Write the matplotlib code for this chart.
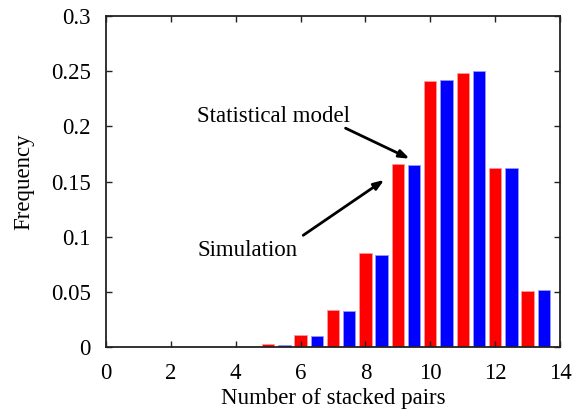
import matplotlib
matplotlib.use("Agg")
import matplotlib.pyplot as plt
import numpy as np

pairs = [5, 6, 7, 8, 9, 10, 11, 12, 13]
simulation = [0.0027, 0.0108, 0.034, 0.0855, 0.166, 0.2413, 0.248, 0.162, 0.0509]
statistical_model = [0.0024, 0.0102, 0.033, 0.0837, 0.165, 0.2422, 0.2503, 0.1624, 0.052]
xticks = [0, 2, 4, 6, 8, 10, 12, 14]
yticks = [0, 0.05, 0.1, 0.15, 0.2, 0.25, 0.3]
ytick_labels = ["0", "0.05", "0.1", "0.15", "0.2", "0.25", "0.3"]

plt.rcParams['font.family'] = ['Liberation Serif', 'DejaVu Serif']
FS = 16.5

fig = plt.figure(figsize=(5.74, 4.11), dpi=100)
ax = fig.add_axes([106/574, 1-347.3/411, (560-106)/574, (347.3-16)/411])

x = np.array(pairs, dtype=float)
w = 0.38
ax.bar(x, simulation, width=w, color='#ff0000', edgecolor='#ff9999', linewidth=0.6)
ax.bar(x + 0.5, statistical_model, width=w, color='#0000ff', edgecolor='#9999ff', linewidth=0.6)

ax.set_xlim(0, 14)
ax.set_ylim(0, 0.3)
ax.set_xticks(xticks)
ax.set_yticks(yticks)
ax.set_yticklabels(ytick_labels)
ax.tick_params(direction='in', top=True, right=True, length=4, width=1,
               labelsize=FS, colors='#222222', labelcolor='black')
ax.tick_params(axis='y', pad=11)
ax.tick_params(axis='x', pad=11)
for s in ax.spines.values():
    s.set_linewidth(1.3)
    s.set_color('#222222')

ax.set_xlabel("Number of stacked pairs", fontsize=FS, labelpad=3)
ax.set_ylabel("Frequency", fontsize=FS, labelpad=12)

ax.annotate("", xy=(9.44, 0.1697), xytext=(7.31, 0.1995),
            arrowprops=dict(arrowstyle='-|>,head_length=0.6,head_width=0.22', color='black', lw=2))
ax.annotate("", xy=(8.65, 0.153), xytext=(6.01, 0.100),
            arrowprops=dict(arrowstyle='-|>,head_length=0.6,head_width=0.22', color='black', lw=2))
ax.text(2.81, 0.209, "Statistical model", fontsize=FS, va='center', ha='left')
ax.text(2.81, 0.088, "Simulation", fontsize=FS, va='center', ha='left')

fig.savefig("out.png", dpi=100)
